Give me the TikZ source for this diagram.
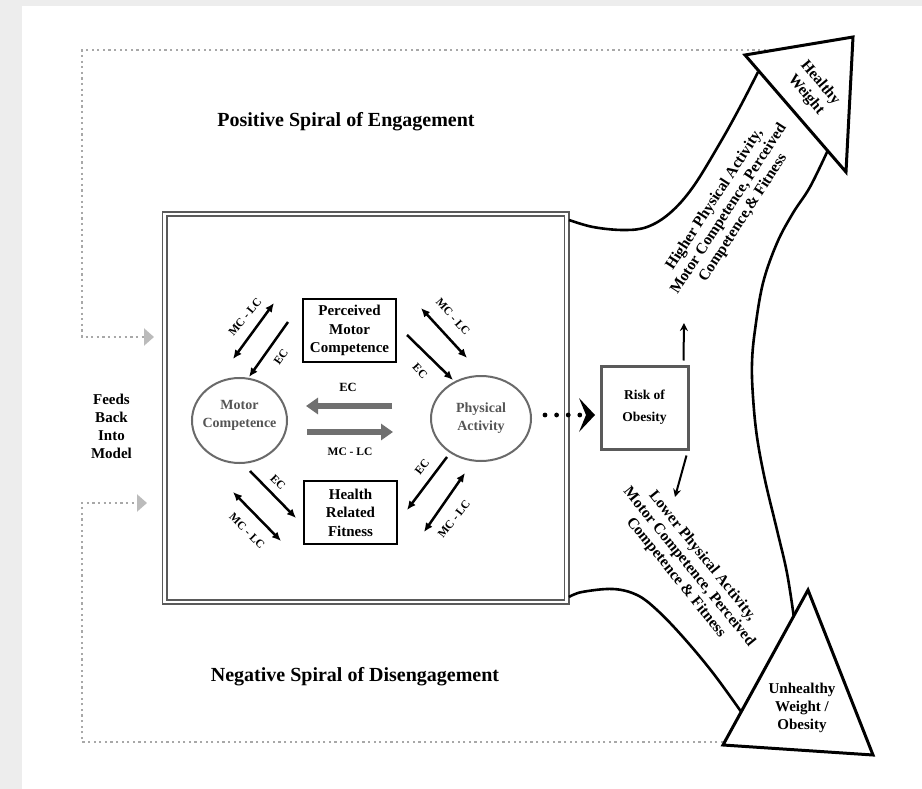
\documentclass[tikz,border=0pt]{standalone}
\usepackage{fontspec}
\setmainfont{Liberation Serif}
\usetikzlibrary{arrows.meta,shapes.geometric}
\newcommand{\myfs}[2]{\fontsize{#1}{#2}\selectfont\bfseries}
\definecolor{bggray}{HTML}{EDEDED}
\definecolor{dotgray}{HTML}{A8A8A8}
\definecolor{boxgray}{HTML}{5A5A5A}
\definecolor{ellgray}{HTML}{6A6A6A}
\definecolor{txtgray}{HTML}{555555}
\definecolor{arrgray}{HTML}{707070}
\definecolor{headgray}{HTML}{BBBBBB}
\begin{document}
\begin{tikzpicture}[x=1pt,y=-1pt,
  dotline/.style={dotgray, line width=2.2pt, dash pattern=on 2.2pt off 3.4pt},
  fbhead/.style={-{Triangle[length=10pt,width=17pt,color=headgray]}},
  outerframe/.style={draw=boxgray, line width=1.7pt, double=white, double distance=2.6pt, rectangle, inner sep=0pt},
  infobox/.style={draw=black, line width=1.4pt, rectangle, inner sep=0pt, align=center, font=\myfs{15}{18.5}},
  ellnode/.style={ellipse, draw=ellgray, line width=2pt, inner sep=0pt},
  elltext/.style={align=center, text=txtgray, font=\myfs{14}{18}, inner sep=0pt},
  bigline/.style={line width=2.6pt, black},
  tri/.style={line width=3pt, draw=black, fill=white, line join=miter},
  diag/.style={line width=2.5pt, black},
  sgl/.style={diag, -{Latex[length=9pt,width=8pt]}},
  dbl/.style={diag, {Latex[length=9pt,width=8pt]}-{Latex[length=9pt,width=8pt]}},
  lbl/.style={font=\myfs{11.5}{13}, inner sep=0pt},
  grayarrow/.style={line width=6pt, arrgray, -{Triangle[length=12pt,width=16pt]}},
  ttl/.style={font=\myfs{20}{24}, inner sep=0pt},
  plaintext/.style={align=center, inner sep=0pt},
]
\useasboundingbox (0,0) rectangle (922,789);
\fill[bggray] (0,0) rectangle (922,789);
\fill[white] (22,6) rectangle (922,789);

% feedback dotted lines
\coordinate (topEnd) at (777,50);
\coordinate (fbTop) at (154,337);
\coordinate (botEnd) at (723,742);
\coordinate (fbBot) at (147,503);
\draw[dotline, fbhead] (topEnd) -- (82,50) -- (82,337) -- (fbTop);
\draw[dotline, fbhead] (botEnd) -- (82,742) -- (82,503) -- (fbBot);

% titles
\node[ttl] (pos) at (346,122) {Positive Spiral of Engagement};
\node[ttl] (neg) at (355,677) {Negative Spiral of Disengagement};
\node[plaintext, font=\myfs{15}{18}] (feeds) at (111.5,426) {Feeds\\Back\\Into\\Model};

% main frame
\node[outerframe, minimum width=402pt, minimum height=388pt] (frame) at (365.5,408) {};

% inner nodes
\node[infobox, minimum width=93pt, minimum height=63pt] (pmc) at (349.5,330.5) {Perceived\\Motor\\Competence};
\node[infobox, minimum width=93pt, minimum height=63pt] (hrf) at (350.5,512.5) {Health\\Related\\Fitness};
\node[ellnode, minimum width=95pt, minimum height=85pt] (mc) at (239.5,420.5) {};
\node[elltext] (mctext) at (239.5,415) {Motor\\Competence};
\node[ellnode, minimum width=100pt, minimum height=85pt] (pa) at (481,418.5) {};
\node[elltext] (patext) at (481,418) {Physical\\Activity};

% gray horizontal arrows
\coordinate (ecT) at (392,406);
\coordinate (ecH) at (306,406);
\coordinate (mlT) at (307,432);
\coordinate (mlH) at (393,432);
\draw[grayarrow] (ecT) -- (ecH);
\draw[grayarrow] (mlT) -- (mlH);
\node[lbl, font=\myfs{12.5}{14}] (ecG) at (348,387) {EC};
\node[lbl] (mlG) at (350,452) {MC - LC};

% upper-left pair
\coordinate (ul1a) at (274,303); \coordinate (ul1b) at (233,359);
\coordinate (ul2a) at (288,322); \coordinate (ul2b) at (249,377);
\draw[dbl] (ul1a) -- (ul1b);
\draw[sgl] (ul2a) -- (ul2b);
\node[lbl, rotate=50] (ulL1) at (245,317) {MC - LC};
\node[lbl, rotate=55] (ulL2) at (281,357) {EC};
% upper-right pair
\coordinate (ur1a) at (421,308); \coordinate (ur1b) at (467,358);
\coordinate (ur2a) at (407,335); \coordinate (ur2b) at (453,380);
\draw[dbl] (ur1a) -- (ur1b);
\draw[sgl] (ur2a) -- (ur2b);
\node[lbl, rotate=-48] (urL1) at (453,317) {MC - LC};
\node[lbl, rotate=-48] (urL2) at (420,371) {EC};
% lower-left pair
\coordinate (ll1a) at (250,471); \coordinate (ll1b) at (296,518);
\coordinate (ll2a) at (233,492); \coordinate (ll2b) at (281,541);
\draw[sgl] (ll1a) -- (ll1b);
\draw[dbl] (ll2a) -- (ll2b);
\node[lbl, rotate=-45] (llL1) at (278,482) {EC};
\node[lbl, rotate=-45] (llL2) at (247,531) {MC - LC};
% lower-right pair
\coordinate (lr1a) at (447,457); \coordinate (lr1b) at (407,510);
\coordinate (lr2a) at (465,473); \coordinate (lr2b) at (424,532);
\draw[sgl] (lr1a) -- (lr1b);
\draw[dbl] (lr2a) -- (lr2b);
\node[lbl, rotate=52] (lrL1) at (422,467) {EC};
\node[lbl, rotate=52] (lrL2) at (454,519) {MC - LC};

% risk box
\node[draw=boxgray, line width=3pt, minimum width=87pt, minimum height=83pt, align=center, font=\myfs{13.5}{22}, inner sep=0pt] (risk) at (644.5,407.5) {Risk of\\Obesity};

% dotted arrow PA -> risk
\coordinate (dotA) at (545,415);
\coordinate (dotB) at (586,415);
\draw[line width=4.8pt, line cap=round, dash pattern=on 0pt off 11.6pt] (dotA) -- (dotB);
\fill (579,398) -- (595,415) -- (579,432) -- (586,415) -- cycle;

% arrows from risk
\coordinate (upTip) at (684,323);
\coordinate (downTip) at (675,497);
\draw[line width=2pt, -{Stealth[length=8pt,width=8pt]}] ([xshift=-6pt,yshift=4pt]risk.north east) -- (upTip);
\draw[line width=2pt, -{Stealth[length=8pt,width=8pt]}] ([xshift=-3pt,yshift=-5pt]risk.south east) -- (downTip);

% big branching arrow outline
\draw[bigline] plot[smooth, tension=0.6] coordinates {(569,220) (593,227) (623,230) (647,227) (670,213) (693,187) (720,143) (740,107) (758,72)};
\draw[bigline] plot[smooth, tension=0.6] coordinates {(828,150) (810,187) (793,213) (777,243) (763,283) (755,330) (752,363) (753,397) (757,437) (765,480) (777,530) (787,573) (794,618)};
\draw[bigline] plot[smooth, tension=0.6] coordinates {(569,597) (582,592) (613,589) (637,595) (657,610) (683,637) (713,673) (742,713)};

% triangles
\draw[tri] (745,55) -- (853,37) -- (846,172) -- cycle;
\draw[tri] (808,590) -- (873,755) -- (723,745) -- cycle;

\node[plaintext, rotate=-50, font=\myfs{15.5}{18.5}] (healthy) at (813,89) {Healthy\\Weight};
\node[plaintext, font=\myfs{15}{18}] (unhealthy) at (802,708) {Unhealthy\\Weight /\\Obesity};

\node[plaintext, rotate=57, font=\myfs{15.5}{17}] (higher) at (729,209) {Higher Physical Activity,\\Motor Competence, Perceived\\Competence,\& Fitness};
\node[plaintext, rotate=-51, font=\myfs{15.5}{17}] (lower) at (689,567) {Lower Physical Activity,\\Motor Competence, Perceived\\Competence \& Fitness};
\end{tikzpicture}
\end{document}
